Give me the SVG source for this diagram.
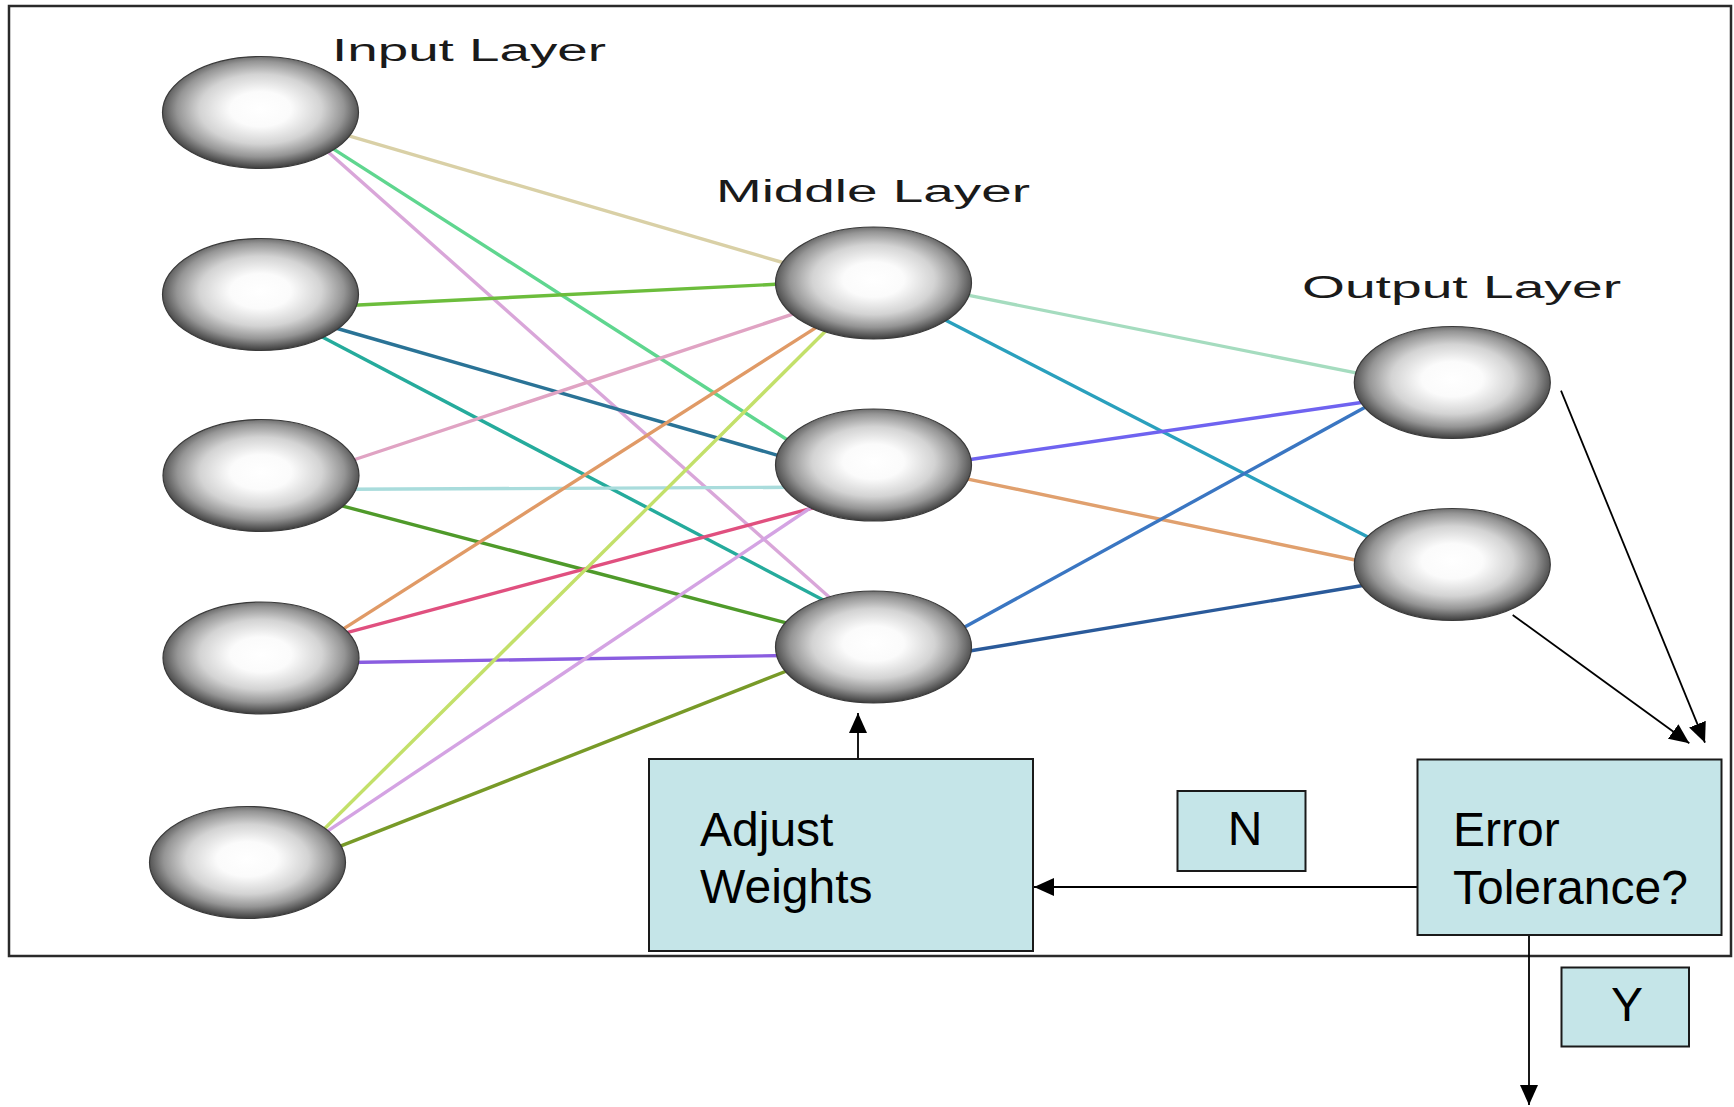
<svg xmlns="http://www.w3.org/2000/svg" width="1734" height="1107" viewBox="0 0 1734 1107">
<style>
  .frame{fill:#ffffff;stroke:#2a2a2a;stroke-width:2.5}
  .node{fill:url(#ball);stroke:#3a3a3a;stroke-width:1.2}
  .layer{font-family:"Liberation Sans",Arial,sans-serif;font-size:31px;fill:#1a1a1a}
  .box{fill:#c5e5e8;stroke:#1a1a1a;stroke-width:2}
  .btxt{font-family:"Liberation Sans",Arial,sans-serif;font-size:48px;fill:#000}
  .w{fill:none;stroke-width:3.4;stroke-linecap:butt}
  .arr{fill:none;stroke:#000;stroke-width:1.8;marker-end:url(#ah)}
</style>
<defs>
  <radialGradient id="ball" cx="50%" cy="47%" r="52%">
    <stop offset="0" stop-color="#ffffff"/>
    <stop offset="0.3" stop-color="#fbfbfb"/>
    <stop offset="0.6" stop-color="#d3d3d3"/>
    <stop offset="0.82" stop-color="#959595"/>
    <stop offset="1" stop-color="#454545"/>
  </radialGradient>
  <marker id="ah" viewBox="0 0 20 18" refX="20" refY="9" markerWidth="20" markerHeight="18" markerUnits="userSpaceOnUse" orient="auto">
    <path d="M0,0 L20,9 L0,18 z" fill="#000"/>
  </marker>
</defs>
<rect class="frame" x="9" y="6" width="1722" height="950"/>

<g id="connectors">
  <line class="w" stroke="#d9d0a6" x1="342.1" y1="133.9" x2="789.6" y2="264.5"/>
  <line class="w" stroke="#5fd68f" x1="326.6" y1="144.6" x2="793.4" y2="443.7"/>
  <line class="w" stroke="#d9a6d9" x1="324.2" y1="148.4" x2="834.2" y2="601.6"/>
  <line class="w" stroke="#6cbd3c" x1="348.3" y1="305.5" x2="785" y2="283.8"/>
  <line class="w" stroke="#2a7396" x1="330.4" y1="326.5" x2="786.3" y2="457.8"/>
  <line class="w" stroke="#25ab9c" x1="316.1" y1="333.7" x2="828.9" y2="603"/>
  <line class="w" stroke="#e0a3c3" x1="348.8" y1="461.5" x2="799.5" y2="311.9"/>
  <line class="w" stroke="#a9dcdc" x1="348.3" y1="489.3" x2="790" y2="487.3"/>
  <line class="w" stroke="#4f9a2a" x1="335.3" y1="504.1" x2="794.7" y2="625.2"/>
  <line class="w" stroke="#e09a66" x1="338.3" y1="632.1" x2="823.4" y2="322.9"/>
  <line class="w" stroke="#e0507f" x1="340.3" y1="634.3" x2="821.4" y2="505.7"/>
  <line class="w" stroke="#8a5de0" x1="348.3" y1="662.5" x2="786.7" y2="655.5"/>
  <line class="w" stroke="#c3e06a" x1="321.2" y1="832" x2="830.4" y2="326.3"/>
  <line class="w" stroke="#d4a3e3" x1="323.4" y1="833.9" x2="818.3" y2="502.7"/>
  <line class="w" stroke="#789a28" x1="334" y1="848.7" x2="794.3" y2="668"/>
  <line class="w" stroke="#a5dcbf" x1="960.2" y1="293.7" x2="1364.8" y2="374.7"/>
  <line class="w" stroke="#2aa0bd" x1="939.4" y1="317.1" x2="1376.2" y2="541.3"/>
  <line class="w" stroke="#6f63f0" x1="961.8" y1="460.7" x2="1369.9" y2="401.3"/>
  <line class="w" stroke="#e0a06e" x1="959.5" y1="477.3" x2="1364.8" y2="562"/>
  <line class="w" stroke="#3a76c2" x1="957.9" y1="630.8" x2="1373.8" y2="402.5"/>
  <line class="w" stroke="#2a5a9a" x1="961.8" y1="652.3" x2="1371.6" y2="584"/>
  <line class="arr" x1="1561" y1="390.7" x2="1705" y2="742.7"/>
  <line class="arr" x1="1512.7" y1="615" x2="1689.3" y2="743.3"/>
  <line class="arr" x1="858" y1="759" x2="858" y2="713"/>
  <line class="arr" x1="1417" y1="887" x2="1034" y2="887"/>
  <line class="arr" x1="1529" y1="935" x2="1529" y2="1105"/>
</g>

<g id="input-layer-label"><text class="layer" x="332" y="61" textLength="274" lengthAdjust="spacingAndGlyphs">Input Layer</text></g>
<g id="middle-layer-label"><text class="layer" x="716" y="201.5" textLength="314" lengthAdjust="spacingAndGlyphs">Middle Layer</text></g>
<g id="output-layer-label"><text class="layer" x="1302" y="298" textLength="319" lengthAdjust="spacingAndGlyphs">Output Layer</text></g>

<g id="in1"><ellipse class="node" cx="260.5" cy="112.5" rx="98" ry="56"/></g>
<g id="in2"><ellipse class="node" cx="260.5" cy="294.5" rx="98" ry="56"/></g>
<g id="in3"><ellipse class="node" cx="261" cy="475.5" rx="98" ry="56"/></g>
<g id="in4"><ellipse class="node" cx="261" cy="658" rx="98" ry="56"/></g>
<g id="in5"><ellipse class="node" cx="247.5" cy="862.5" rx="98" ry="56"/></g>
<g id="mid1"><ellipse class="node" cx="873.5" cy="283" rx="98" ry="56"/></g>
<g id="mid2"><ellipse class="node" cx="873.5" cy="465" rx="98" ry="56"/></g>
<g id="mid3"><ellipse class="node" cx="873.5" cy="647" rx="98" ry="56"/></g>
<g id="out1"><ellipse class="node" cx="1452.3" cy="382.5" rx="98" ry="56"/></g>
<g id="out2"><ellipse class="node" cx="1452.3" cy="564.5" rx="98" ry="56"/></g>

<g id="adjust-weights">
  <rect class="box" x="649" y="759" width="384" height="192"/>
  <text class="btxt" x="700" y="846">Adjust</text>
  <text class="btxt" x="700" y="903">Weights</text>
</g>
<g id="error-tolerance">
  <rect class="box" x="1417.5" y="759.5" width="304" height="175.5"/>
  <text class="btxt" x="1453" y="846">Error</text>
  <text class="btxt" x="1453" y="904">Tolerance?</text>
</g>
<g id="label-n">
  <rect class="box" x="1177.5" y="791" width="128" height="80"/>
  <text class="btxt" x="1245" y="845" text-anchor="middle">N</text>
</g>
<g id="label-y">
  <rect class="box" x="1561.5" y="967.5" width="127.5" height="79"/>
  <text class="btxt" x="1627" y="1021" text-anchor="middle">Y</text>
</g>
</svg>
